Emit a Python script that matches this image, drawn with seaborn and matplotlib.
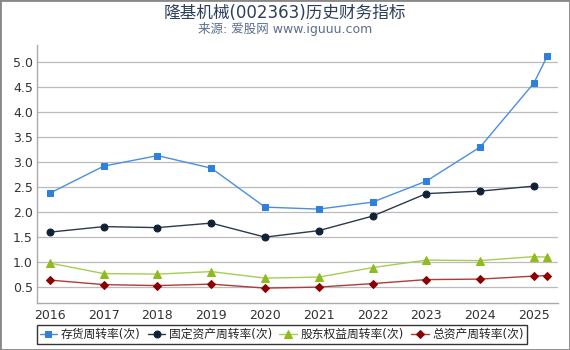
import numpy as np
import pandas as pd
import matplotlib
matplotlib.use("Agg")
import matplotlib.pyplot as plt
import seaborn as sns

# values
years = [2016, 2017, 2018, 2019, 2020, 2021, 2022, 2023, 2024, 2025, 2025.25]
inventory = [2.37, 2.91, 3.12, 2.87, 2.09, 2.05, 2.19, 2.61, 3.29, 4.57, 5.11]
fixed_assets = [1.59, 1.70, 1.68, 1.77, 1.49, 1.62, 1.91, 2.36, 2.41, 2.51, np.nan]
equity = [0.97, 0.76, 0.75, 0.80, 0.67, 0.69, 0.88, 1.03, 1.02, 1.10, 1.09]
total_assets = [0.63, 0.54, 0.52, 0.55, 0.47, 0.49, 0.56, 0.64, 0.65, 0.71, 0.72]
tick_years = list(range(2016, 2026))

names = ["存货周转率(次)", "固定资产周转率(次)", "股东权益周转率(次)", "总资产周转率(次)"]
series = [inventory, fixed_assets, equity, total_assets]
line_colors = ["#4a8fe0", "#2b3a4c", "#a8cc55", "#b23a3a"]
marker_colors = ["#2f7fdc", "#112236", "#8fbb1f", "#8b0000"]
markers = ["s", "o", "^", "D"]
msizes = [5, 5, 6, 4]

sns.set_style("white")
plt.rcParams["font.family"] = ["DejaVu Sans", "Noto Sans CJK SC"]
plt.rcParams["axes.unicode_minus"] = False

fig = plt.figure(figsize=(5.7, 3.5), dpi=100)
ax = fig.add_axes([0.065, 0.134, 0.914, 0.737])

for name, vals, lc, mc, mk, ms in zip(names, series, line_colors, marker_colors, markers, msizes):
    df = pd.DataFrame({"year": years, "value": vals}).dropna()
    sns.lineplot(data=df, x="year", y="value", ax=ax, color=lc, linewidth=1.0,
                 marker=mk, markersize=ms, markerfacecolor=mc, markeredgecolor=mc,
                 label=name)

ax.set_xlim(2015.76, 2025.45)
ax.set_ylim(0.17, 5.33)
ax.set_xticks(tick_years)
ax.set_yticks(np.arange(0.5, 5.01, 0.5))
ax.set_yticklabels([f"{v:.1f}" for v in np.arange(0.5, 5.01, 0.5)])
ax.set_xlabel("")
ax.set_ylabel("")
ax.grid(axis="y", color="#bbbbbb", linewidth=0.9)
ax.tick_params(axis="both", labelsize=9, colors="#333333", length=0, pad=3)
ax.tick_params(axis="x", length=3, color="#aaaaaa", direction="out", pad=1)
for side in ["top", "right"]:
    ax.spines[side].set_visible(False)
for side in ["left", "bottom"]:
    ax.spines[side].set_color("#aaaaaa")
    ax.spines[side].set_linewidth(1.0)

ax.get_legend().remove()
handles, labels = ax.get_legend_handles_labels()
leg = fig.legend(handles, labels, loc="upper center", bbox_to_anchor=(0.494, 0.072), ncol=4,
                 fontsize=8.5, frameon=True, fancybox=False, edgecolor="black",
                 handlelength=1.5, handletextpad=0.3, columnspacing=0.6, borderpad=0.25,
                 borderaxespad=0)
leg.get_frame().set_linewidth(1.0)
for t in leg.get_texts():
    t.set_color("#222222")

fig.text(0.5, 0.963, "隆基机械(002363)历史财务指标", ha="center", va="center",
         fontsize=12, color="#2c3e5a")
fig.text(0.5, 0.916, "来源: 爱股网 www.iguuu.com", ha="center", va="center",
         fontsize=9, color="#5a6e8e")

fig.patches.append(plt.Rectangle((0, 0), 1, 1, transform=fig.transFigure, fill=False,
                                 edgecolor="#888888", linewidth=2))

fig.savefig("out.png", dpi=100)
